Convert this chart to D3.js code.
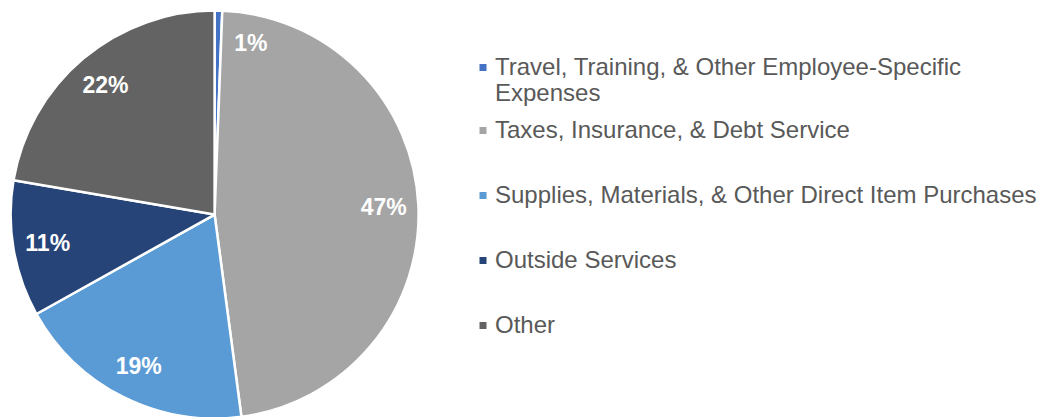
<!DOCTYPE html>
<html>
<head>
<meta charset="utf-8">
<script src="https://cdn.jsdelivr.net/npm/d3@7"></script>
<style>
  html, body { margin: 0; padding: 0; background: #fff; }
  svg { display: block; }
</style>
</head>
<body>
<svg id="chart" width="1048" height="417"></svg>
<script>
const categories = [
  "Travel, Training, & Other Employee-Specific Expenses",
  "Taxes, Insurance, & Debt Service",
  "Supplies, Materials, & Other Direct Item Purchases",
  "Outside Services",
  "Other"
];
const legendLines = [
  ["Travel, Training, & Other Employee-Specific", "Expenses"],
  ["Taxes, Insurance, & Debt Service"],
  ["Supplies, Materials, & Other Direct Item Purchases"],
  ["Outside Services"],
  ["Other"]
];
const values = [0.6, 47.3, 19.0, 10.8, 22.3];
const valueLabels = ["1%", "47%", "19%", "11%", "22%"];
const colors = ["#4472C4", "#A5A5A5", "#5B9BD5", "#264478", "#636363"];

const svg = d3.select("#chart");
const cx = 214.6, cy = 214.6, R = 204;
const FONT = "'Liberation Sans', Arial, sans-serif";

const pie = d3.pie().sort(null).value(d => d)(values);
const arc = d3.arc().innerRadius(0).outerRadius(R);

const g = svg.append("g").attr("transform", `translate(${cx},${cy})`);
g.selectAll("path").data(pie).join("path")
  .attr("d", arc)
  .attr("fill", (d, i) => colors[i])
  .attr("stroke", "#fff")
  .attr("stroke-width", 2.5)
  .attr("stroke-linejoin", "round");

g.selectAll("text.lbl").data(pie).join("text")
  .attr("class", "lbl")
  .attr("transform", d => {
    const tiny = d.endAngle - d.startAngle < 0.1;
    const a = tiny ? d.endAngle + 0.17 : (d.startAngle + d.endAngle) / 2;
    const r = tiny ? 0.86 * R : 0.83 * R;
    return `translate(${Math.sin(a) * r},${-Math.cos(a) * r})`;
  })
  .attr("text-anchor", "middle")
  .attr("dy", "0.36em")
  .attr("fill", "#fff")
  .attr("font-family", FONT)
  .attr("font-weight", "bold")
  .attr("font-size", 23)
  .text((d, i) => valueLabels[i]);

// Legend
const lg = svg.append("g");
const rows = lg.selectAll("g").data(categories).join("g")
  .attr("transform", (d, i) => {
    const y = i === 0 ? 75 : 138 + (i - 1) * 65;
    return `translate(0,${y})`;
  });
rows.append("rect")
  .attr("x", 479.5).attr("y", -11)
  .attr("width", 7).attr("height", 7)
  .attr("fill", (d, i) => colors[i]);
rows.append("text")
  .attr("x", 495)
  .attr("font-family", FONT)
  .attr("font-size", 24)
  .attr("fill", "#595959")
  .selectAll("tspan").data((d, i) => legendLines[i]).join("tspan")
  .attr("x", 495)
  .attr("dy", (d, j) => j === 0 ? 0 : 26)
  .text(d => d);
</script>
</body>
</html>
